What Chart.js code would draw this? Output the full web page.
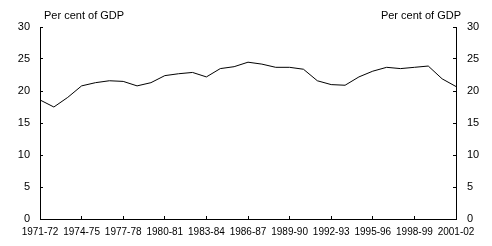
<!DOCTYPE html>
<html>
<head>
<meta charset="utf-8">
<script src="https://cdn.jsdelivr.net/npm/chart.js@4"></script>
<style>
  html, body { margin: 0; padding: 0; background: #fff; }
  #wrap { width: 492px; height: 246px; }
</style>
</head>
<body>
<div id="wrap"><canvas id="gdpChart" width="492" height="246"></canvas></div>
<script>
// financial years shown on the axis
const years = [
  "1971-72", "1972-73", "1973-74", "1974-75", "1975-76", "1976-77", "1977-78", "1978-79",
  "1979-80", "1980-81", "1981-82", "1982-83", "1983-84", "1984-85", "1985-86", "1986-87",
  "1987-88", "1988-89", "1989-90", "1990-91", "1991-92", "1992-93", "1993-94", "1994-95",
  "1995-96", "1996-97", "1997-98", "1998-99", "1999-00", "2000-01", "2001-02"
];

// per cent of GDP
const shareOfGdp = [
  18.6, 17.5, 19.0, 20.8, 21.3, 21.6, 21.5, 20.8,
  21.3, 22.4, 22.7, 22.9, 22.2, 23.5, 23.8, 24.5,
  24.2, 23.7, 23.7, 23.4, 21.6, 21.0, 20.9, 22.2,
  23.1, 23.7, 23.5, 23.7, 23.9, 21.9, 20.7
];

const yTicks = [0, 5, 10, 15, 20, 25, 30];
const unitLabel = "Per cent of GDP";

const labelFont = { family: "'Liberation Sans', Arial, sans-serif", size: 11 };
const yearFont = { family: "'Liberation Sans Narrow', 'Arial Narrow', 'Liberation Sans', sans-serif", size: 10 };

// the two "Per cent of GDP" captions above the axes
const unitCaptions = {
  id: "unitCaptions",
  afterDraw(chart) {
    const ctx = chart.ctx;
    const area = chart.chartArea;
    ctx.save();
    ctx.fillStyle = "#000";
    ctx.font = "11px " + labelFont.family;
    ctx.textBaseline = "alphabetic";
    ctx.textAlign = "left";
    ctx.fillText(unitLabel, area.left + 4, area.top - 8);
    ctx.textAlign = "right";
    ctx.fillText(unitLabel, area.right + 5, area.top - 8);
    ctx.restore();
  }
};

function yAxis(side, width) {
  return {
    type: "linear",
    position: side,
    min: yTicks[0],
    max: yTicks[yTicks.length - 1],
    afterFit: scale => { scale.width = width; },
    afterBuildTicks: scale => { scale.ticks = yTicks.map(v => ({ value: v })); },
    grid: { drawOnChartArea: false, drawTicks: true, tickLength: -3, color: "#000", lineWidth: 1 },
    border: { display: true, color: "#000", width: 1 },
    ticks: { color: "#000", font: labelFont, padding: side === "left" ? 13 : 14 }
  };
}

new Chart(document.getElementById("gdpChart"), {
  type: "line",
  data: {
    labels: years,
    datasets: [{
      data: shareOfGdp,
      borderColor: "#000",
      borderWidth: 1,
      pointRadius: 0,
      tension: 0,
      fill: false,
      yAxisID: "y"
    }]
  },
  options: {
    responsive: false,
    animation: false,
    layout: { padding: { top: 27, left: 0, right: 0, bottom: 0 } },
    plugins: { legend: { display: false }, tooltip: { enabled: false } },
    scales: {
      x: {
        type: "category",
        offset: false,
        afterFit: scale => { scale.height = 27; },
        grid: { drawOnChartArea: false, drawTicks: true, tickLength: -3, color: "#000", lineWidth: 1 },
        border: { display: true, color: "#000", width: 1 },
        ticks: {
          autoSkip: false,
          maxRotation: 0,
          color: "#000",
          font: yearFont,
          padding: 10,
          callback: (val, i) => (i % 3 === 0 ? years[i] : null)
        }
      },
      y: yAxis("left", 40),
      y2: yAxis("right", 36)
    }
  },
  plugins: [unitCaptions]
});
</script>
</body>
</html>
